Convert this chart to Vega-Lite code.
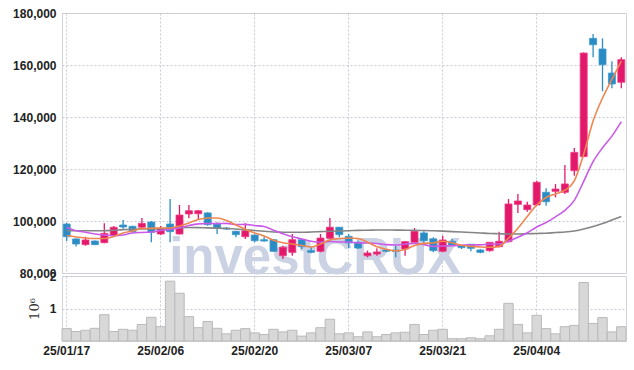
{
  "$schema": "https://vega.github.io/schema/vega-lite/v6.json",
  "background": "white",
  "padding": {"left": 12, "top": 6, "right": 8, "bottom": 5},
  "spacing": 3,
  "bounds": "flush",
  "config": {
    "view": {"stroke": "#d2d4dc", "strokeWidth": 1},
    "axis": {
      "labelFont": "Liberation Sans, Arial, sans-serif",
      "labelFontWeight": "bold",
      "labelFontSize": 12,
      "labelColor": "#222222",
      "gridColor": "#c6c9d8",
      "gridDash": [2, 2],
      "gridWidth": 1,
      "labelOverlap": false,
      "labelFlush": false
    }
  },
  "datasets": {
    "k": [
      {"d":"25/01/17","o":98850,"h":99250,"l":92300,"c":93950,"v":380000,"m5":94400,"m10":97600,"m60":96250},
      {"d":"25/01/20","o":93100,"h":93300,"l":90200,"c":91150,"v":290000,"m5":93850,"m10":96250,"m60":96250},
      {"d":"25/01/21","o":90900,"h":93950,"l":90500,"c":92700,"v":330000,"m5":93450,"m10":95650,"m60":96250},
      {"d":"25/01/22","o":92300,"h":92500,"l":90750,"c":90900,"v":390000,"m5":93250,"m10":95000,"m60":96250},
      {"d":"25/01/23","o":91650,"h":99100,"l":91400,"c":95250,"v":810000,"m5":93250,"m10":94600,"m60":96250},
      {"d":"25/01/24","o":94350,"h":98100,"l":94050,"c":97600,"v":290000,"m5":94050,"m10":94350,"m60":96450},
      {"d":"25/01/31","o":98450,"h":100400,"l":97050,"c":97700,"v":360000,"m5":95400,"m10":94600,"m60":96700},
      {"d":"25/02/03","o":97950,"h":98200,"l":95500,"c":95900,"v":330000,"m5":96150,"m10":95400,"m60":96850},
      {"d":"25/02/04","o":97600,"h":101150,"l":97050,"c":99100,"v":510000,"m5":97100,"m10":95600,"m60":96900},
      {"d":"25/02/05","o":99600,"h":100000,"l":91800,"c":95650,"v":730000,"m5":97250,"m10":95750,"m60":96900},
      {"d":"25/02/06","o":95000,"h":98100,"l":94600,"c":97200,"v":440000,"m5":97300,"m10":96350,"m60":97000},
      {"d":"25/02/07","o":98850,"h":108450,"l":91800,"c":95900,"v":1840000,"m5":97300,"m10":96750,"m60":97200},
      {"d":"25/02/10","o":95000,"h":106150,"l":94800,"c":102300,"v":1470000,"m5":98100,"m10":97300,"m60":97400},
      {"d":"25/02/11","o":102700,"h":106150,"l":101050,"c":103950,"v":750000,"m5":99250,"m10":98250,"m60":97500},
      {"d":"25/02/12","o":102800,"h":104250,"l":100400,"c":103950,"v":410000,"m5":100550,"m10":98900,"m60":97450},
      {"d":"25/02/13","o":103100,"h":103350,"l":98200,"c":98600,"v":600000,"m5":101150,"m10":99050,"m60":97350},
      {"d":"25/02/14","o":98850,"h":99500,"l":95000,"c":97300,"v":390000,"m5":101150,"m10":99000,"m60":97250},
      {"d":"25/02/17","o":97300,"h":97700,"l":96550,"c":96900,"v":220000,"m5":100150,"m10":99100,"m60":97100},
      {"d":"25/02/18","o":96050,"h":96250,"l":93750,"c":94750,"v":330000,"m5":98450,"m10":98650,"m60":96900},
      {"d":"25/02/19","o":93950,"h":99100,"l":93100,"c":96250,"v":380000,"m5":96850,"m10":98700,"m60":96600},
      {"d":"25/02/20","o":94600,"h":94800,"l":91800,"c":92400,"v":250000,"m5":95400,"m10":98250,"m60":96350},
      {"d":"25/02/21","o":92800,"h":93950,"l":92050,"c":92300,"v":200000,"m5":94250,"m10":97900,"m60":96050},
      {"d":"25/02/24","o":92800,"h":93100,"l":88100,"c":88350,"v":360000,"m5":92600,"m10":96450,"m60":95750},
      {"d":"25/02/25","o":86650,"h":90500,"l":85400,"c":89900,"v":280000,"m5":91650,"m10":95100,"m60":95700},
      {"d":"25/02/26","o":87950,"h":95000,"l":86650,"c":92800,"v":330000,"m5":91150,"m10":93950,"m60":95650},
      {"d":"25/02/27","o":92800,"h":93100,"l":89250,"c":90100,"v":150000,"m5":90600,"m10":93100,"m60":95650},
      {"d":"25/02/28","o":88600,"h":89900,"l":87600,"c":87950,"v":250000,"m5":90000,"m10":92200,"m60":95750},
      {"d":"25/03/04","o":88350,"h":95000,"l":87950,"c":93450,"v":410000,"m5":91150,"m10":91850,"m60":95900},
      {"d":"25/03/05","o":93350,"h":101150,"l":93100,"c":97600,"v":670000,"m5":92700,"m10":92100,"m60":96050},
      {"d":"25/03/06","o":97600,"h":97700,"l":93750,"c":94750,"v":220000,"m5":93250,"m10":91950,"m60":96150},
      {"d":"25/03/07","o":94100,"h":95000,"l":89500,"c":91550,"v":250000,"m5":93450,"m10":91900,"m60":96250},
      {"d":"25/03/10","o":91800,"h":92400,"l":89250,"c":89600,"v":130000,"m5":93250,"m10":91600,"m60":96400},
      {"d":"25/03/11","o":86650,"h":88600,"l":86050,"c":87700,"v":280000,"m5":91850,"m10":91550,"m60":96450},
      {"d":"25/03/12","o":87300,"h":89500,"l":86650,"c":88100,"v":130000,"m5":90100,"m10":91350,"m60":96550},
      {"d":"25/03/13","o":88850,"h":89250,"l":87950,"c":88350,"v":200000,"m5":89150,"m10":90900,"m60":96550},
      {"d":"25/03/14","o":88850,"h":90500,"l":86050,"c":88350,"v":250000,"m5":88500,"m10":90750,"m60":96500},
      {"d":"25/03/17","o":89250,"h":92200,"l":86650,"c":92050,"v":270000,"m5":89050,"m10":91150,"m60":96450},
      {"d":"25/03/18","o":91800,"h":97300,"l":91750,"c":96050,"v":510000,"m5":90550,"m10":91400,"m60":96400},
      {"d":"25/03/19","o":95400,"h":96050,"l":91400,"c":92400,"v":200000,"m5":91400,"m10":90900,"m60":96350},
      {"d":"25/03/20","o":93100,"h":93750,"l":87950,"c":88600,"v":330000,"m5":91550,"m10":90250,"m60":96250},
      {"d":"25/03/21","o":88350,"h":94350,"l":87950,"c":92700,"v":360000,"m5":92200,"m10":90400,"m60":96100},
      {"d":"25/03/24","o":92200,"h":93100,"l":90250,"c":90750,"v":70000,"m5":91650,"m10":90500,"m60":95900},
      {"d":"25/03/25","o":90500,"h":90750,"l":89250,"c":89750,"v":70000,"m5":90700,"m10":90700,"m60":95750},
      {"d":"25/03/26","o":91050,"h":91150,"l":88350,"c":89500,"v":100000,"m5":90250,"m10":90850,"m60":95600},
      {"d":"25/03/27","o":88850,"h":89250,"l":87600,"c":87950,"v":70000,"m5":90000,"m10":90800,"m60":95400},
      {"d":"25/03/28","o":88600,"h":91900,"l":88200,"c":91800,"v":160000,"m5":89900,"m10":91150,"m60":95200},
      {"d":"25/03/31","o":90100,"h":95900,"l":89900,"c":92200,"v":360000,"m5":90250,"m10":91150,"m60":95100},
      {"d":"25/04/01","o":92050,"h":108450,"l":91800,"c":106550,"v":1160000,"m5":93350,"m10":92250,"m60":95000},
      {"d":"25/04/02","o":106400,"h":110400,"l":103100,"c":107700,"v":510000,"m5":97250,"m10":93750,"m60":95000},
      {"d":"25/04/03","o":104350,"h":107400,"l":103600,"c":106150,"v":250000,"m5":101750,"m10":95500,"m60":95100},
      {"d":"25/04/04","o":106150,"h":115500,"l":105900,"c":114900,"v":790000,"m5":106150,"m10":97700,"m60":95200},
      {"d":"25/04/07","o":111050,"h":112600,"l":105900,"c":107400,"v":380000,"m5":109050,"m10":99400,"m60":95300},
      {"d":"25/04/08","o":111400,"h":114250,"l":109100,"c":112300,"v":220000,"m5":110400,"m10":101600,"m60":95550},
      {"d":"25/04/09","o":111050,"h":121550,"l":110400,"c":114250,"v":440000,"m5":111850,"m10":104100,"m60":95750},
      {"d":"25/04/10","o":119350,"h":128100,"l":117400,"c":126400,"v":480000,"m5":115400,"m10":107950,"m60":96150},
      {"d":"25/04/11","o":124750,"h":164800,"l":124700,"c":164600,"v":1800000,"m5":125750,"m10":115250,"m60":96900},
      {"d":"25/04/14","o":170250,"h":171900,"l":162950,"c":167800,"v":540000,"m5":138450,"m10":122800,"m60":97900},
      {"d":"25/04/15","o":166150,"h":170250,"l":149900,"c":160100,"v":720000,"m5":147300,"m10":128150,"m60":99050},
      {"d":"25/04/16","o":156900,"h":161400,"l":151050,"c":152700,"v":280000,"m5":154500,"m10":132650,"m60":100400},
      {"d":"25/04/17","o":153350,"h":162950,"l":151050,"c":162050,"v":440000,"m5":161500,"m10":138250,"m60":101750}
    ]
  },
  "vconcat": [
    {
      "width": 564,
      "height": 260,
      "data": {"name": "k"},
      "encoding": {
        "x": {
          "field": "d", "type": "ordinal", "title": null,
          "scale": {"paddingInner": 0, "paddingOuter": 0},
          "axis": {"values": ["25/01/17","25/02/06","25/02/20","25/03/07","25/03/21","25/04/04"], "labels": false, "ticks": false, "domain": false, "grid": true, "bandPosition": 0.5, "minExtent": 0, "maxExtent": 0, "labelPadding": 0}
        }
      },
      "layer": [
        {
          "data": {"values": [{"t": "investCRUX"}]},
          "mark": {"type": "text", "font": "Liberation Sans, Arial, sans-serif", "fontWeight": "bold", "fontSize": 51, "color": "#cbd2e3", "align": "center", "baseline": "alphabetic", "dx": 4, "dy": 1},
          "encoding": {
            "x": {"datum": "25/02/28", "type": "ordinal", "bandPosition": 0.5},
            "y": {"datum": 80000, "type": "quantitative", "title": null, "scale": {"domain": [80000, 180000], "nice": false, "zero": false}},
            "text": {"field": "t"}
          }
        },
        {
          "mark": {"type": "rule", "strokeWidth": 1.3},
          "encoding": {
            "y": {"field": "l", "type": "quantitative", "title": null,
              "scale": {"domain": [80000, 180000], "nice": false, "zero": false},
              "axis": {"values": [80000, 100000, 120000, 140000, 160000, 180000], "format": ",d", "ticks": false, "domain": false, "grid": true, "labelPadding": 6}},
            "y2": {"field": "h"},
            "color": {"condition": {"test": "datum.c >= datum.o", "value": "#e2196b"}, "value": "#2a8cc4"}
          }
        },
        {
          "mark": {"type": "bar", "size": 7, "strokeWidth": 0.8},
          "encoding": {
            "y": {"field": "o", "type": "quantitative", "title": null},
            "y2": {"field": "c"},
            "fill": {"condition": {"test": "datum.c >= datum.o", "value": "#e2196b"}, "value": "#2a8cc4"},
            "stroke": {"condition": {"test": "datum.c >= datum.o", "value": "#f03a80"}, "value": "#3c98cc"}
          }
        },
        {
          "mark": {"type": "line", "interpolate": "monotone", "color": "#858585", "strokeWidth": 1.6},
          "encoding": {"y": {"field": "m60", "type": "quantitative", "title": null}}
        },
        {
          "mark": {"type": "line", "interpolate": "monotone", "color": "#c95be8", "strokeWidth": 1.6},
          "encoding": {"y": {"field": "m10", "type": "quantitative", "title": null}}
        },
        {
          "mark": {"type": "line", "interpolate": "monotone", "color": "#ee8650", "strokeWidth": 1.6},
          "encoding": {"y": {"field": "m5", "type": "quantitative", "title": null}}
        }
      ]
    },
    {
      "width": 564,
      "height": 65,
      "data": {"name": "k"},
      "mark": {"type": "bar", "fill": "#d8d8d8", "stroke": "#b9b9b9", "strokeWidth": 1},
      "encoding": {
        "x": {
          "field": "d", "type": "ordinal", "title": null,
          "scale": {"paddingInner": 0, "paddingOuter": 0},
          "axis": {"values": ["25/01/17","25/02/06","25/02/20","25/03/07","25/03/21","25/04/04"], "labelAngle": 0, "ticks": false, "domain": false, "grid": true, "labelPadding": 4, "bandPosition": 0.5}
        },
        "y": {
          "field": "v", "type": "quantitative",
          "scale": {"domain": [0, 2000000], "nice": false},
          "axis": {"values": [1000000, 2000000], "labelExpr": "datum.value / 1000000", "ticks": false, "domain": false, "grid": true, "labelPadding": 6, "title": "10⁶", "titleFont": "DejaVu Serif", "titleFontWeight": "normal", "titleFontSize": 13, "titleColor": "#333333", "titlePadding": 8}
        }
      }
    }
  ]
}
